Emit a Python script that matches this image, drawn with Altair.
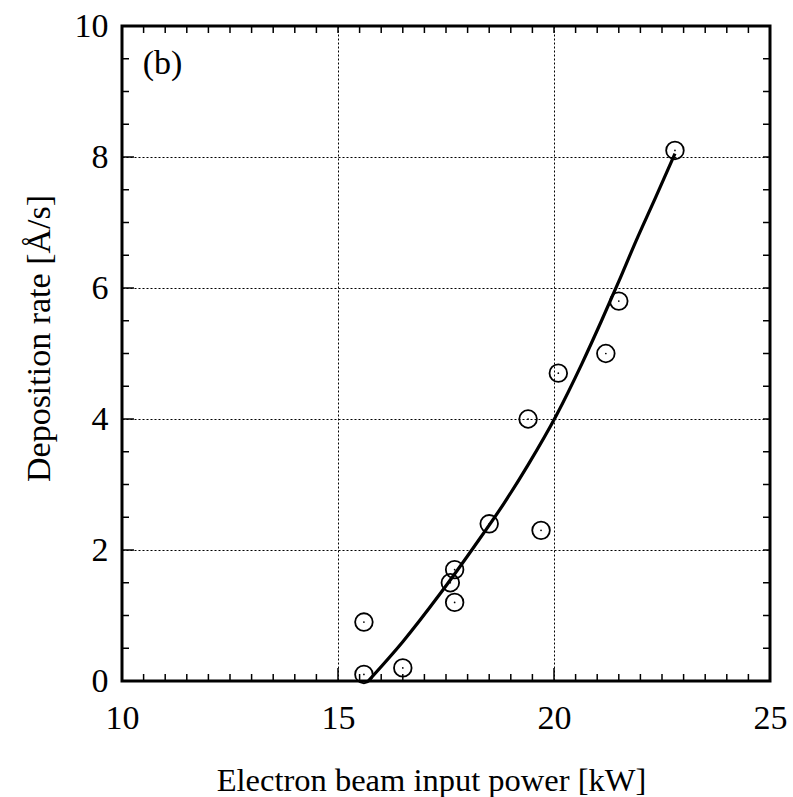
import altair as alt
import pandas as pd

# measured points
power = [15.6, 15.6, 16.5, 17.6, 17.7, 17.7, 18.5, 19.7, 19.4, 20.1, 21.2, 21.5, 22.8]
rate = [0.9, 0.1, 0.2, 1.5, 1.7, 1.2, 2.4, 2.3, 4.0, 4.7, 5.0, 5.8, 8.1]

# fitted curve
fit_x = [15.7, 16.5, 17.35, 18.15, 18.85, 19.4, 20.05, 20.65, 21.1, 21.5, 21.9, 22.35, 22.8]
fit_y = [0.0, 0.6, 1.32, 2.05, 2.72, 3.3, 4.05, 4.85, 5.5, 6.1, 6.72, 7.38, 8.05]

x_major = [10, 15, 20, 25]
y_major = [0, 2, 4, 6, 8, 10]
x_minor = [v / 2 for v in range(21, 50)]
y_minor = [v / 2 for v in range(1, 20)]

W, H = 648, 655
FONT = "Liberation Serif"

xs = alt.Scale(domain=[10, 25], nice=False, zero=False)
ys = alt.Scale(domain=[0, 10], nice=False, zero=False)

xaxis = alt.Axis(
    values=x_major, title="Electron beam input power [kW]",
    grid=True, gridDash=[2, 2], gridColor="black", gridWidth=1, gridOpacity=1,
    ticks=False, domain=False, labelFont=FONT, labelFontSize=34, labelColor="black",
    labelPadding=20, titleFont=FONT, titleFontSize=32.5, titleFontWeight="normal",
    titleColor="black", titleX=309, titleY=109, titleBaseline="alphabetic",
    labelFlush=False)
yaxis = alt.Axis(
    values=y_major, title="Deposition rate [Å/s]",
    grid=True, gridDash=[2, 2], gridColor="black", gridWidth=1, gridOpacity=1,
    ticks=False, domain=False, labelFont=FONT, labelFontSize=34, labelColor="black",
    labelPadding=14, titleFont=FONT, titleFontSize=34, titleFontWeight="normal",
    titleColor="black", titleX=-73, titleY=312, titleAngle=-90,
    titleBaseline="alphabetic", labelFlush=False)

X = lambda f: alt.X(f, type="quantitative", scale=xs, axis=xaxis)
Y = lambda f: alt.Y(f, type="quantitative", scale=ys, axis=yaxis)

pts = pd.DataFrame({"x": power, "y": rate})
fit = pd.DataFrame({"x": fit_x, "y": fit_y})
xmin = pd.DataFrame({"x": [v for v in x_minor if v not in x_major]})
ymin = pd.DataFrame({"y": [v for v in y_minor if v not in y_major]})
xmaj = pd.DataFrame({"x": [15, 20]})
ymaj = pd.DataFrame({"y": [2, 4, 6, 8]})

line = alt.Chart(fit).mark_line(color="black", strokeWidth=3.2, interpolate="monotone").encode(
    x=X("x"), y=Y("y"))

circles = alt.Chart(pts).mark_point(shape="circle", size=310, color="black",
                                    strokeWidth=1.8, filled=False, opacity=1).encode(
    x=X("x"), y=Y("y"))
dots = alt.Chart(pts).mark_circle(size=3, color="black", opacity=1).encode(
    x=X("x"), y=Y("y"))

def xt(df, y0, y1):
    return alt.Chart(df).mark_rule(color="black", strokeWidth=1.5).encode(
        x=X("x"), y=alt.value(y0), y2=alt.value(y1))

def yt(df, x0, x1):
    return alt.Chart(df).mark_rule(color="black", strokeWidth=1.5).encode(
        y=Y("y"), x=alt.value(x0), x2=alt.value(x1))

ticks = [xt(xmin, H, H - 7), xt(xmin, 0, 7), xt(xmaj, H, H - 13), xt(xmaj, 0, 7),
         yt(ymin, 0, 7), yt(ymin, W, W - 7), yt(ymaj, 0, 12), yt(ymaj, W, W - 7)]

label = alt.Chart(pd.DataFrame({"x": [10.48], "y": [9.42], "t": ["(b)"]})).mark_text(
    font=FONT, fontSize=34, align="left", baseline="middle", color="black").encode(
    x=X("x"), y=Y("y"), text="t:N")

chart = alt.layer(*ticks, line, circles, dots, label).properties(
    width=W, height=H,
    autosize=alt.AutoSizeParams(type="none"),
    padding={"left": 122, "top": 26, "right": 23, "bottom": 116},
    background="white",
).configure_view(stroke="black", strokeWidth=3)

chart.save("out.html", embed_options={"renderer": "svg", "actions": False})
